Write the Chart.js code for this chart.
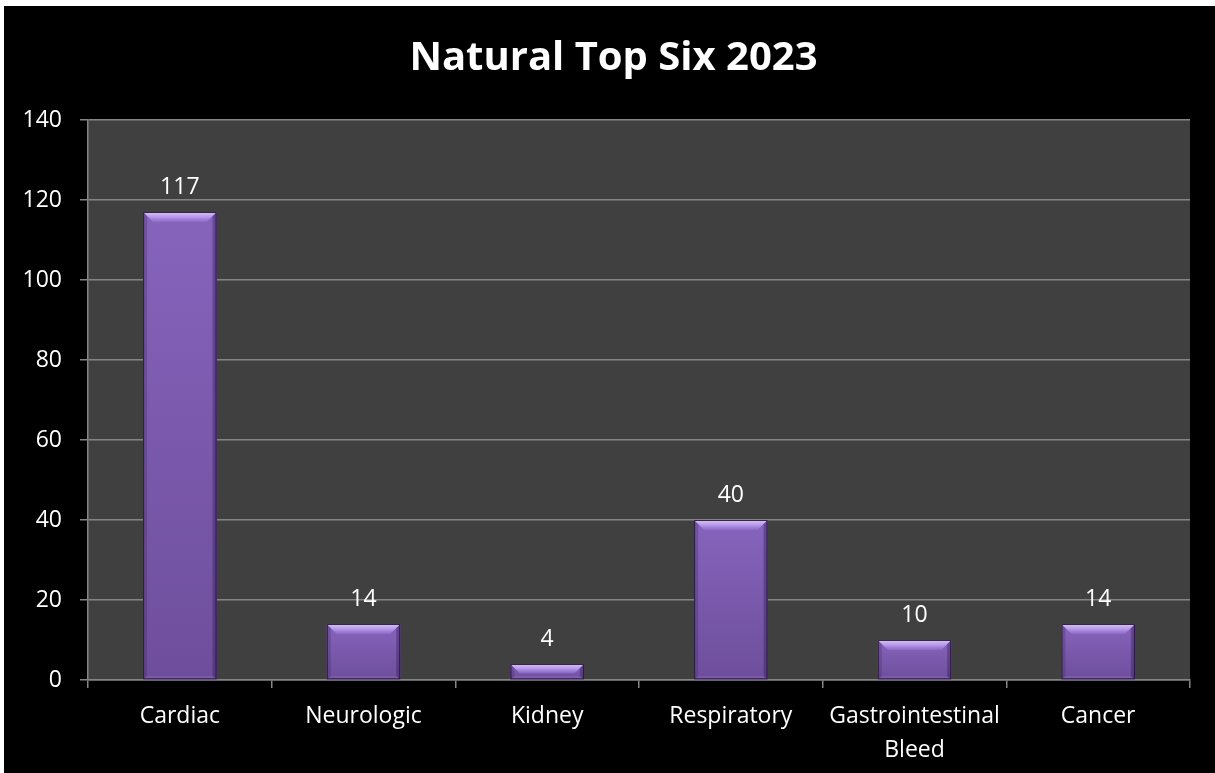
<!DOCTYPE html>
<html>
<head>
<meta charset="utf-8">
<script src="https://cdn.jsdelivr.net/npm/chart.js@4.4.0/dist/chart.umd.min.js"></script>
<style>
body{margin:0;background:#fff;}
#box{position:absolute;left:4px;top:6px;width:1211px;height:767px;background:#000;}
</style>
</head>
<body>
<div id="box"><canvas id="myChart"></canvas></div>
<script>
const titulo = 'Natural Top Six 2023';
const categorias = ['Cardiac', 'Neurologic', 'Kidney', 'Respiratory', ['Gastrointestinal', 'Bleed'], 'Cancer'];
const valores = [117, 14, 4, 40, 10, 14];
const yMin = 0;
const yMax = 140;
const yPasso = 20;

const fonte = '"Open Sans"';
const corGrade = '#858585';

// fundo cinza da area do grafico
const fundoArea = {
    id: 'fundoArea',
    beforeDraw(chart) {
        const {ctx, chartArea: {left, top, width, height}} = chart;
        ctx.save();
        ctx.fillStyle = '#404040';
        ctx.fillRect(left, top, width, height);
        ctx.restore();
    }
};

// titulo centrado no quadro todo
const textoTitulo = {
    id: 'textoTitulo',
    afterDraw(chart) {
        const ctx = chart.ctx;
        ctx.save();
        ctx.font = 'bold 40px ' + fonte;
        ctx.fillStyle = '#fff';
        ctx.textAlign = 'center';
        ctx.textBaseline = 'middle';
        ctx.fillText(titulo, chart.width / 2 + 4, 53);
        ctx.restore();
    }
};

// barras com efeito de bisel + valores em cima
const biselBarras = {
    id: 'biselBarras',
    afterDatasetsDraw(chart) {
        const ctx = chart.ctx;
        const meta = chart.getDatasetMeta(0);
        ctx.save();
        meta.data.forEach(function (bar, i) {
            const l = bar.x - bar.width / 2;
            const r = bar.x + bar.width / 2;
            const t = bar.y;
            const b = bar.base;
            const bv = Math.min(10, (b - t) * 0.6);

            const g = ctx.createLinearGradient(0, t, 0, b);
            g.addColorStop(0, '#8664bc');
            g.addColorStop(1, '#6e4e9c');
            ctx.fillStyle = g;
            ctx.fillRect(l, t, r - l, b - t);

            function poly(pts, cor) {
                ctx.beginPath();
                ctx.moveTo(pts[0][0], pts[0][1]);
                for (let k = 1; k < pts.length; k++) ctx.lineTo(pts[k][0], pts[k][1]);
                ctx.closePath();
                ctx.fillStyle = cor;
                ctx.fill();
            }
            // lados finos
            poly([[l, t], [l + 4, t + 4], [l + 4, b - 3], [l, b]], 'rgba(50,30,80,0.25)');
            poly([[r, t], [r, b], [r - 4, b - 3], [r - 4, t + 4]], 'rgba(40,20,70,0.35)');
            poly([[l, b], [r, b], [r - 4, b - 3], [l + 4, b - 3]], 'rgba(150,120,200,0.35)');
            // topo claro
            const gt = ctx.createLinearGradient(0, t, 0, t + bv);
            gt.addColorStop(0, '#dcc0ff');
            gt.addColorStop(0.5, '#b898ec');
            gt.addColorStop(1, 'rgba(145,112,204,0.7)');
            poly([[l, t], [r, t], [r - bv, t + bv], [l + bv, t + bv]], gt);

            ctx.strokeStyle = 'rgba(35,20,55,0.9)';
            ctx.lineWidth = 1;
            ctx.strokeRect(l + 0.5, t + 0.5, r - l - 1, b - t - 1);

            ctx.font = '23px ' + fonte;
            ctx.fillStyle = '#fff';
            ctx.textAlign = 'center';
            ctx.textBaseline = 'middle';
            ctx.fillText(valores[i], bar.x, t - 25);
        });
        ctx.restore();
    }
};

const data = {
    labels: categorias,
    datasets: [{
        label: 'Natural',
        data: valores,
        backgroundColor: '#7c5cab',
        borderWidth: 0,
        barPercentage: 0.4,
        categoryPercentage: 1
    }]
};

const config = {
    type: 'bar',
    data,
    options: {
        responsive: true,
        maintainAspectRatio: false,
        animation: false,
        layout: {
            padding: {left: 0, right: 25, top: 114, bottom: 0}
        },
        plugins: {
            legend: {display: false},
            tooltip: {enabled: false},
            title: {display: false}
        },
        scales: {
            x: {
                grid: {
                    display: true,
                    drawOnChartArea: false,
                    drawTicks: true,
                    tickLength: 8,
                    color: corGrade,
                    lineWidth: 1.5
                },
                border: {display: true, color: corGrade, width: 1.5},
                ticks: {
                    color: '#fff',
                    font: {family: fonte, size: 23, lineHeight: 1.48},
                    padding: 11,
                    maxRotation: 0,
                    autoSkip: false
                },
                afterFit(scale) { scale.height = 93; }
            },
            y: {
                min: yMin,
                max: yMax,
                grid: {
                    color: corGrade,
                    lineWidth: 1.5,
                    tickLength: 8
                },
                border: {display: true, color: corGrade, width: 1.5},
                ticks: {
                    stepSize: yPasso,
                    color: '#fff',
                    font: {family: fonte, size: 23},
                    padding: 18
                },
                afterFit(scale) { scale.width = 84; }
            }
        }
    },
    plugins: [fundoArea, biselBarras, textoTitulo]
};

const myChart = new Chart(document.getElementById('myChart'), config);
</script>
</body>
</html>
